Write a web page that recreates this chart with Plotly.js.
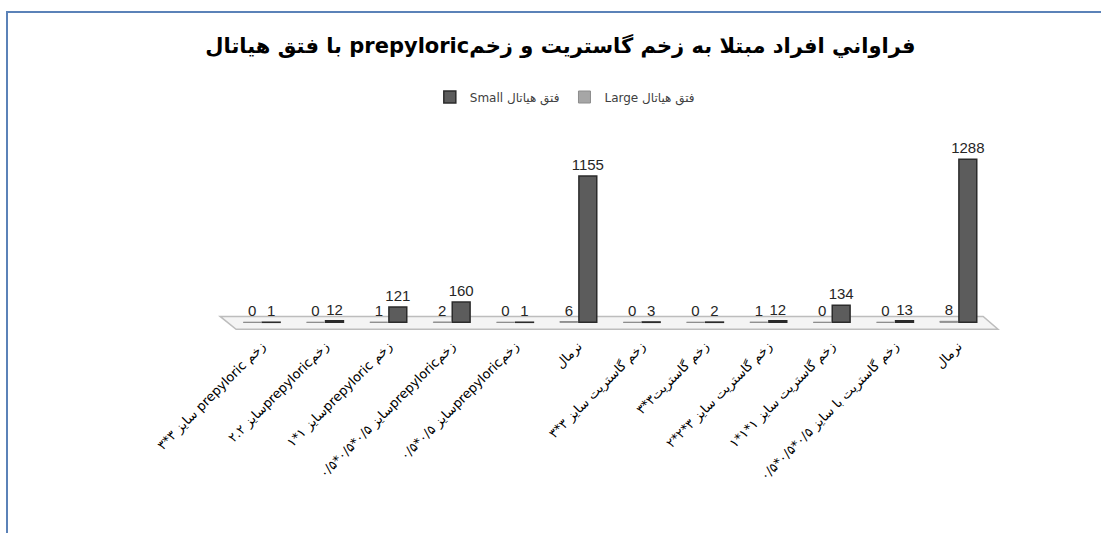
<!DOCTYPE html>
<html>
<head>
<meta charset="utf-8">
<script src="https://cdn.plot.ly/plotly-3.0.1.min.js"></script>
<style>
  html, body { margin: 0; padding: 0; background: #fff; }
  #chart { width: 1101px; height: 533px; position: absolute; left: 0; top: 0; }
  #frame { position: absolute; left: 6px; top: 11px; right: 0; bottom: 0;
           border-top: 2px solid #5b82b8; border-left: 2px solid #5b82b8; pointer-events: none; }
</style>
</head>
<body>
<div id="chart"></div>
<div id="frame"></div>
<script>
// ---- data ----
const categories = [
  "زخم prepyloric سایز ۳*۳",
  "زخمprepyloricسایز ۲.۲",
  "زخم prepyloricسایز ۱*۱",
  "زخمprepyloricسایز ۰/۵*۰/۵*۰/۵",
  "زخمprepyloricسایز ۰/۵*۰/۵",
  "نرمال",
  "زخم گاستریت سایز ۳*۳",
  "زخم گاستریت۳*۳",
  "زخم گاستریت سایز ۳*۲*۲",
  "زخم گاستریت سایز ۱*۱*۱",
  "زخم گاستریت با سایز ۰/۵*۰/۵*۰/۵",
  "نرمال"
];
const largeValues = [0, 0, 1, 2, 0, 6, 0, 0, 1, 0, 0, 8];
const smallValues = [1, 12, 121, 160, 1, 1155, 3, 2, 12, 134, 13, 1288];
const seriesNames = ["Large فتق هیاتال", "Small فتق هیاتال"];
const chartTitle = "فراواني افراد مبتلا به زخم گاستريت و زخمprepyloric با فتق هياتال";

// ---- helpers ----
const RTL = s => "\u202B" + s + "\u202C";
const idx = categories.map((_, i) => i);

const labelFont = { family: "Liberation Sans, Arial, sans-serif", size: 15, color: "#262626" };

const traces = [
  {
    type: "bar", name: seriesNames[0], x: idx, y: largeValues,
    marker: { color: "#a6a6a6", line: { color: "#8c8c8c", width: 1 } },
    text: largeValues.map(String), textposition: "outside", cliponaxis: false,
    constraintext: "none", textfont: labelFont, hoverinfo: "y+name"
  },
  {
    type: "bar", name: seriesNames[1], x: idx, y: smallValues,
    marker: { color: "#5c5c5c", line: { color: "#2b2b2b", width: 1.5 } },
    text: smallValues.map(String), textposition: "outside", cliponaxis: false,
    constraintext: "none", textfont: labelFont, hoverinfo: "y+name"
  }
];

const layout = {
  width: 1101, height: 533,
  paper_bgcolor: "#ffffff", plot_bgcolor: "rgba(0,0,0,0)",
  margin: { l: 230, r: 111, t: 145, b: 198 },
  barmode: "group", bargap: 0.4, bargroupgap: 0.06,
  title: {
    text: RTL(chartTitle),
    font: { family: "DejaVu Sans, sans-serif", size: 21, color: "#000", weight: "bold" },
    xref: "container", x: 0.509, xanchor: "center",
    yref: "container", y: 0.915, yanchor: "middle"
  },
  showlegend: true,
  legend: {
    orientation: "h", traceorder: "reversed",
    xref: "container", x: 0.513, xanchor: "center",
    yref: "container", y: 0.818, yanchor: "middle",
    font: { family: "DejaVu Sans, sans-serif", size: 12, color: "#404040" },
    itemwidth: 30
  },
  xaxis: {
    tickmode: "array", tickvals: idx, ticktext: categories.map(RTL),
    tickangle: -45, range: [-0.5, categories.length - 0.5],
    showgrid: false, zeroline: false, showline: false, ticks: "",
    tickfont: { family: "DejaVu Sans, sans-serif", size: 13, color: "#000" },
    automargin: false
  },
  yaxis: {
    range: [-100, 1400], visible: false, showgrid: false, zeroline: false, fixedrange: true
  },
  shapes: [
    {
      type: "path", xref: "paper", yref: "y", layer: "below",
      path: "M -0.013,47 L 0.991,47 L 1.0105,-55 L 0.008,-55 Z",
      fillcolor: "#f4f4f4", line: { color: "#bdbdbd", width: 1.5 }
    }
  ]
};

Plotly.newPlot("chart", traces, layout, { displayModeBar: false, staticPlot: true });
</script>
</body>
</html>
